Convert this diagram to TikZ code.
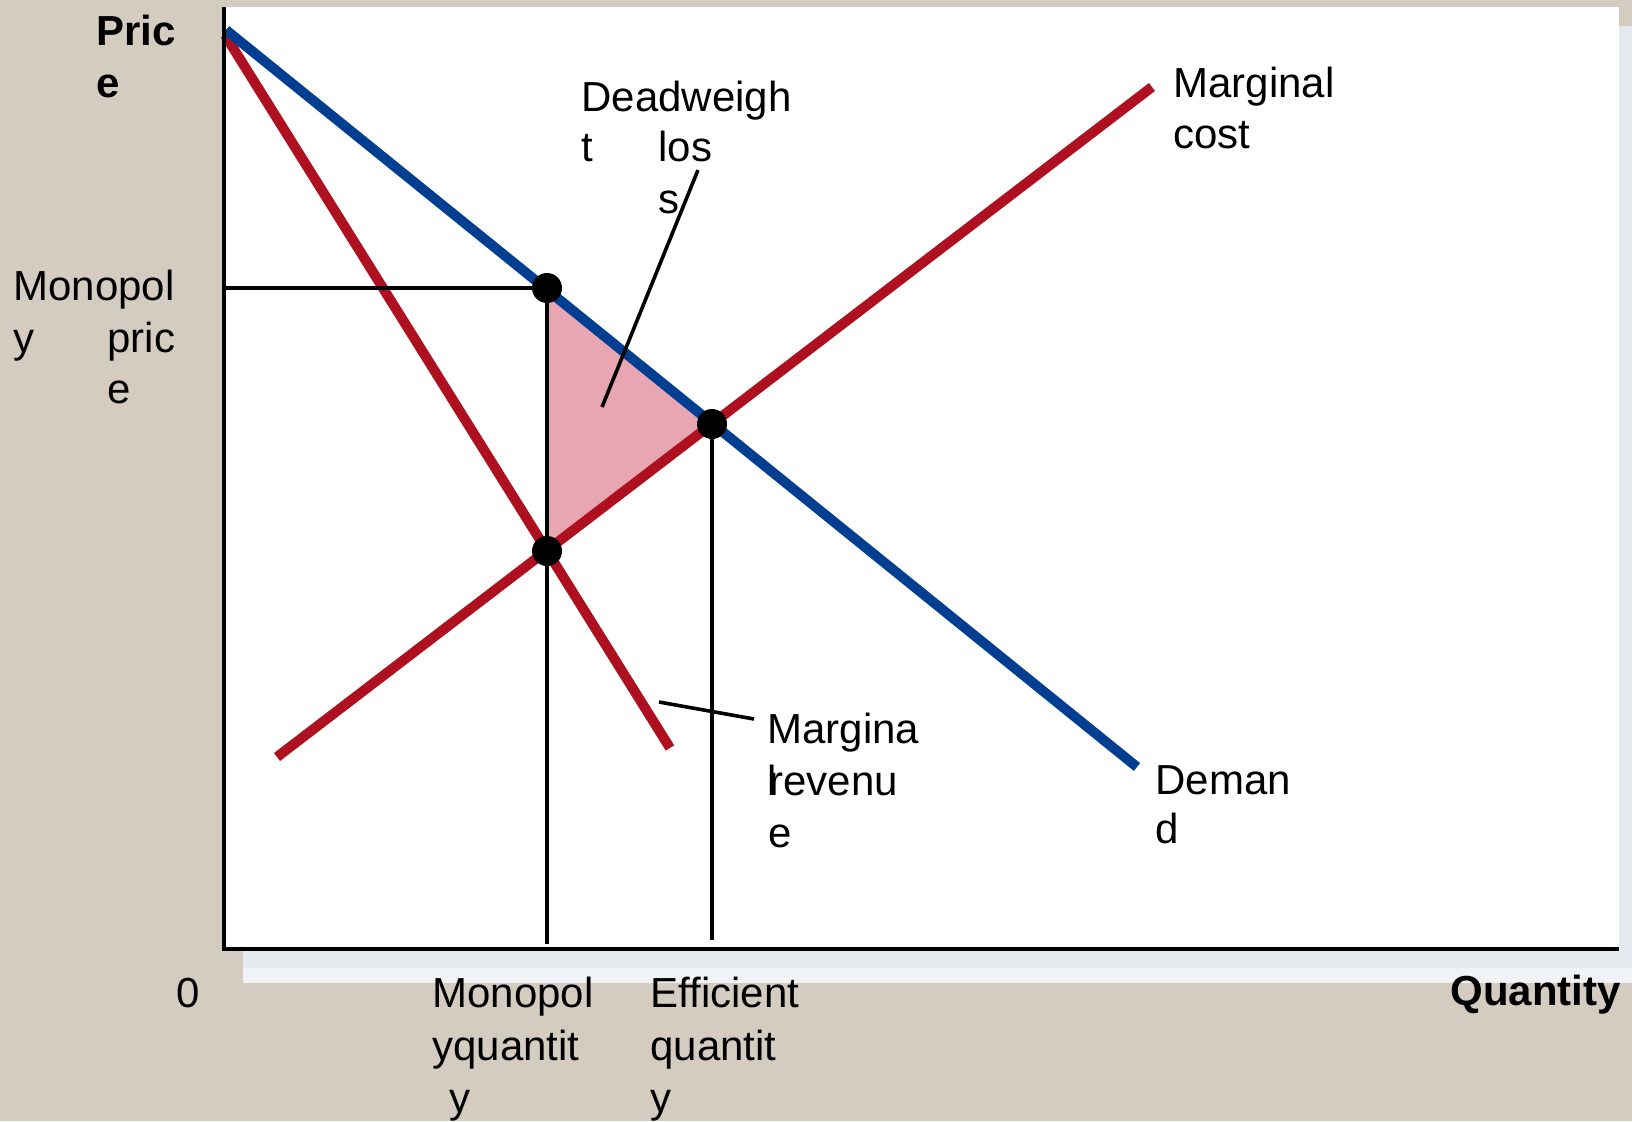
\documentclass[tikz,border=0pt]{standalone}
\usepackage{fontspec}
\setmainfont{Liberation Sans}
\definecolor{bgbeige}{RGB}{213,204,193}
\definecolor{shadowc}{RGB}{228,232,239}
\definecolor{shadowl}{RGB}{240,242,246}
\definecolor{dblue}{RGB}{0,62,145}
\definecolor{dred}{RGB}{174,16,32}
\definecolor{dwlpink}{RGB}{232,165,178}
\tikzset{
  txt/.style={anchor=base west, inner sep=0pt, font=\fontsize{21}{26}\selectfont},
  btxt/.style={txt, font=\fontsize{21}{26}\selectfont\bfseries},
  thickred/.style={draw=dred, line width=5pt},
  thickblue/.style={draw=dblue, line width=5pt},
  thinline/.style={draw=black, line width=1.8pt},
  axisline/.style={draw=black, line width=2pt},
  dot/.style={circle, fill=black, inner sep=0pt, minimum size=15pt},
}
\begin{document}
\begin{tikzpicture}[x=0.5pt, y=-0.5pt]
\useasboundingbox (0,0) rectangle (1632,1121);
% background and panel
\fill[bgbeige] (0,0) rectangle (1632,1121);
\fill[shadowc] (243,26) rectangle (1632,983);
\fill[shadowl] (243,968) rectangle (1632,983);
\fill[white] (224,7) rectangle (1619,949);
% key points
\coordinate (Dtop) at (226,30);
\coordinate (Dend) at (1137,767);
\coordinate (MRtop) at (225,35);
\coordinate (MRend) at (670,748);
\coordinate (MCstart) at (277,757);
\coordinate (MCend) at (1152,87);
\coordinate (pm) at (547,288);
\coordinate (pe) at (712,424);
\coordinate (pmc) at (547,551);
\coordinate (axtop) at (224,7);
\coordinate (origin) at (224,949);
\coordinate (axright) at (1619,949);
\coordinate (pricel) at (224,288);
\coordinate (qmbot) at (547,944);
\coordinate (qebot) at (712,940);
\coordinate (dwlA) at (698,170);
\coordinate (dwlB) at (602,407);
\coordinate (mrA) at (659,702);
\coordinate (mrB) at (754,719);
% deadweight loss triangle
\fill[dwlpink] (pm) -- (pe) -- (pmc) -- cycle;
% curves
\draw[thickred] (MRtop) -- (MRend);
\draw[thickred] (MCstart) -- (MCend);
\draw[thickblue] (Dtop) -- (Dend);
% thin lines
\draw[thinline] (pricel) -- (pm);
\draw[thinline] (pm) -- (qmbot);
\draw[thinline] (pe) -- (qebot);
\draw[thinline] (dwlA) -- (dwlB);
\draw[thinline] (mrA) -- (mrB);
% axes
\draw[axisline] (axtop) -- (origin) -- (axright);
% dots
\node[dot] (dm) at (pm) {};
\node[dot] (de) at (pe) {};
\node[dot] (dmc) at (pmc) {};
% labels
\node[btxt] (pr1) at (96,45) {Pric};
\node[btxt] (pr2) at (96,97) {e};
\node[txt] (mp1) at (13,300) {Monopol};
\node[txt] (mp2) at (13,352) {y};
\node[txt] (mp3) at (107,352) {pric};
\node[txt] (mp4) at (107,403) {e};
\node[txt] (dw1) at (581,111) {Deadweigh};
\node[txt] (dw2) at (581,161) {t};
\node[txt] (dw3) at (658,161) {los};
\node[txt] (dw4) at (658,213) {s};
\node[txt] (mc1) at (1173,97) {Marginal};
\node[txt] (mc2) at (1173,148) {cost};
\node[txt] (mr1) at (767,743) {Margina};
\node[txt] (mr2) at (767,795) {l};
\node[txt] (mr3) at (769,795) {revenu};
\node[txt] (mr4) at (768,847) {e};
\node[txt] (dd1) at (1155,794) {Deman};
\node[txt] (dd2) at (1155,843) {d};
\node[txt] (zero) at (176,1007) {0};
\node[txt] (mq1) at (432,1007) {Monopol};
\node[txt] (mq2) at (432,1060) {yquantit};
\node[txt] (mq3) at (449,1112) {y};
\node[txt] (eq1) at (650,1007) {Efficient};
\node[txt] (eq2) at (650,1060) {quantit};
\node[txt] (eq3) at (650,1112) {y};
\node[btxt] (qty) at (1450,1005) {Quantity};
\end{tikzpicture}
\end{document}
